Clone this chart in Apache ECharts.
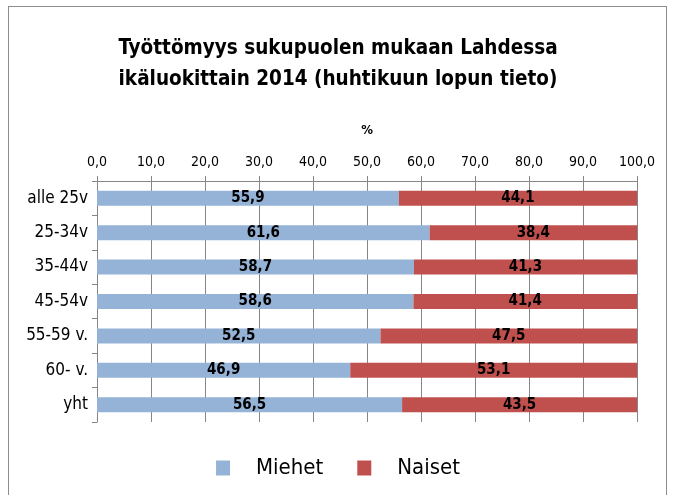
<!DOCTYPE html>
<html>
<head>
<meta charset="utf-8">
<script src="https://cdn.jsdelivr.net/npm/echarts@6/dist/echarts.min.js"></script>
<style>
  html, body { margin: 0; padding: 0; background: #fff; }
  #frame {
    position: absolute; left: 8px; top: 6px; width: 659px; height: 495px;
    border: 1px solid #8c8c8c; box-sizing: border-box;
  }
  #chart { position: absolute; left: 0; top: 0; width: 676px; height: 495px; }
</style>
</head>
<body>
<div id="frame"></div>
<div id="chart"></div>
<script>
const categories = ['alle 25v', '25-34v', '35-44v', '45-54v', '55-59 v.', '60- v.', 'yht']
const men = [55.9, 61.6, 58.7, 58.6, 52.5, 46.9, 56.5]
const women = [44.1, 38.4, 41.3, 41.4, 47.5, 53.1, 43.5]
const xTicks = [0, 10, 20, 30, 40, 50, 60, 70, 80, 90, 100]

const font = "'DejaVu Sans Condensed', Lato, sans-serif"
const fmt = v => v.toFixed(1).replace('.', ',')

const chart = echarts.init(document.getElementById('chart'))

const labelStyle = {
  show: true,
  position: 'inside',
  color: '#000',
  fontWeight: 'bold',
  fontSize: 15,
  fontFamily: font,
  formatter: p => fmt(p.value)
}

chart.setOption({
  animation: false,
  textStyle: { fontFamily: font },
  title: {
    text: 'Työttömyys sukupuolen mukaan Lahdessa\nikäluokittain 2014 (huhtikuun lopun tieto)',
    left: 'center',
    top: 28,
    textStyle: {
      fontFamily: font,
      fontWeight: 'bold',
      fontSize: 20.5,
      lineHeight: 31,
      color: '#000'
    }
  },
  legend: {
    bottom: 11,
    left: 'center',
    itemWidth: 14,
    itemHeight: 15,
    itemGap: 34,
    icon: 'rect',
    textStyle: { fontFamily: font, fontSize: 22, color: '#000', padding: [0, 0, 0, 21] },
    data: ['Miehet', 'Naiset']
  },
  grid: { left: 97, right: 39, top: 181, bottom: 73 },
  xAxis: {
    type: 'value',
    position: 'top',
    min: 0,
    max: 100,
    interval: 10,
    name: '%',
    nameLocation: 'middle',
    nameGap: 44,
    nameTextStyle: { fontFamily: font, fontWeight: 'bold', fontSize: 13, color: '#000' },
    axisLine: { show: true, lineStyle: { color: '#868686' } },
    axisTick: { show: true, length: 5, lineStyle: { color: '#868686' } },
    axisLabel: {
      fontFamily: font, fontSize: 14, color: '#000', margin: 12,
      formatter: v => xTicks.includes(v) ? fmt(v) : ''
    },
    splitLine: { show: true, lineStyle: { color: '#868686', width: 1 } }
  },
  yAxis: {
    type: 'category',
    inverse: true,
    data: categories,
    axisLine: { show: true, lineStyle: { color: '#868686' } },
    axisTick: { show: true, length: 5, lineStyle: { color: '#868686' } },
    axisLabel: { fontFamily: font, fontSize: 17, color: '#000', margin: 9 }
  },
  series: [
    {
      name: 'Miehet',
      type: 'bar',
      stack: 'total',
      data: men,
      barWidth: 15,
      itemStyle: { color: '#95b3d7' },
      label: labelStyle
    },
    {
      name: 'Naiset',
      type: 'bar',
      stack: 'total',
      data: women,
      barWidth: 15,
      itemStyle: { color: '#c0504d' },
      label: labelStyle
    }
  ]
})
</script>
</body>
</html>
